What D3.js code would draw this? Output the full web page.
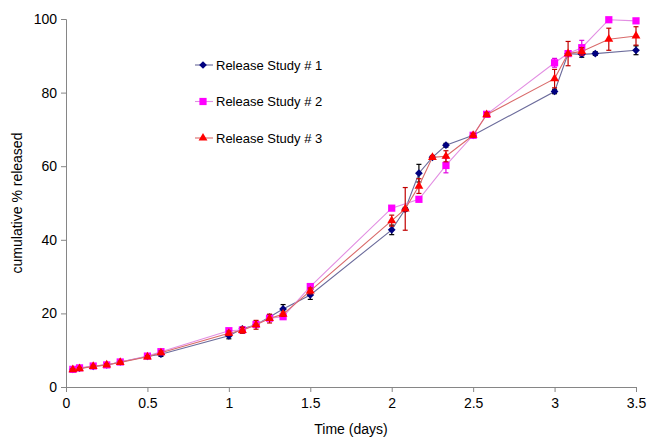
<!DOCTYPE html>
<html>
<head>
<meta charset="utf-8">
<script src="https://cdn.jsdelivr.net/npm/d3@7"></script>
<style>
	body { margin: 0; background: #fff; }
	svg { display: block; font-family: Arial, "Liberation Sans", sans-serif; }
</style>
</head>
<body>
<div id="chart"></div>
<script>
// ---- data (time in days, % released) ----
const xTicks = [0, 0.5, 1, 1.5, 2, 2.5, 3, 3.5]
const yTicks = [0, 20, 40, 60, 80, 100]

const study1Time = [0.042, 0.083, 0.167, 0.25, 0.333, 0.5, 0.583, 1, 1.083, 1.167, 1.25, 1.333, 1.5, 2, 2.083, 2.167, 2.25, 2.333, 2.5, 3, 3.083, 3.167, 3.25, 3.5]
const study1Value = [4.8, 5.1, 5.6, 6.0, 6.8, 8.3, 8.9, 13.9, 15.8, 16.9, 19.0, 21.2, 25.0, 42.7, 48.3, 58.1, 62.4, 65.7, 68.4, 80.3, 90.6, 90.4, 90.6, 91.5]
const study1Err = [0.3, 0.3, 0.3, 0.3, 0.3, 0.3, 0.6, 0.8, 0.5, 0.5, 0.6, 1.2, 1.2, 1.3, 0.5, 2.4, 0.5, 0.5, 0.5, 0.6, 0.5, 0.8, 0.5, 1.2]

const study2Time = [0.042, 0.083, 0.167, 0.25, 0.333, 0.5, 0.583, 1, 1.083, 1.167, 1.25, 1.333, 1.5, 2, 2.167, 2.333, 2.5, 2.583, 3, 3.083, 3.167, 3.333, 3.5]
const study2Value = [4.8, 5.2, 5.7, 6.0, 6.8, 8.4, 9.6, 15.3, 15.5, 17.0, 18.7, 19.1, 27.3, 48.6, 51.0, 60.2, 68.4, 74.1, 88.1, 90.6, 92.2, 99.8, 99.5]
const study2Err = [0.2, 0.2, 0.2, 0.2, 0.3, 0.3, 0.4, 0.5, 0.4, 0.5, 0.5, 0.5, 0.8, 0.5, 0.5, 2.0, 0.4, 0.5, 1.2, 0.5, 2.0, 0.4, 0.4]

const study3Time = [0.042, 0.083, 0.167, 0.25, 0.333, 0.5, 0.583, 1, 1.083, 1.167, 1.25, 1.333, 1.5, 2, 2.083, 2.167, 2.25, 2.333, 2.5, 2.583, 3, 3.083, 3.167, 3.333, 3.5]
const study3Value = [4.7, 5.0, 5.6, 6.0, 6.7, 8.2, 9.3, 14.6, 15.4, 16.9, 18.6, 19.8, 26.1, 45.2, 48.4, 54.6, 62.4, 62.7, 68.4, 74.0, 83.8, 90.6, 91.2, 94.5, 95.4]
const study3Err = [0.3, 0.3, 0.3, 0.3, 0.3, 0.3, 0.5, 0.6, 0.8, 1.2, 1.2, 0.6, 0.8, 1.5, 5.8, 2.0, 0.5, 1.5, 0.5, 0.5, 2.5, 3.3, 1.0, 3.0, 2.5]

const seriesNames = ['Release Study # 1', 'Release Study # 2', 'Release Study # 3']

// ---- layout ----
const width = 649, height = 440
const margin = {left: 66, right: 13, top: 19, bottom: 53}

// excel style diamond = square turned 45deg
const series = [
	{name: seriesNames[0], t: study1Time, v: study1Value, e: study1Err,
		line: '#6b6b9b', fill: '#000080', err: '#000000', shape: d3.symbolSquare, size: 30, rot: 45},
	{name: seriesNames[1], t: study2Time, v: study2Value, e: study2Err,
		line: '#e28ee2', fill: '#ff00ff', err: '#e000e0', shape: d3.symbolSquare, size: 52, rot: 0},
	{name: seriesNames[2], t: study3Time, v: study3Value, e: study3Err,
		line: '#d96a6a', fill: '#ff0000', err: '#c00000', shape: d3.symbolTriangle, size: 34, rot: 0}
]

const svg = d3.select('#chart').append('svg')
	.attr('width', width)
	.attr('height', height)

const x = d3.scaleLinear().domain([0, 3.5]).range([margin.left, width - margin.right])
const y = d3.scaleLinear().domain([0, 100]).range([height - margin.bottom, margin.top])

// axes
const axisColor = '#868686'

const xAxis = svg.append('g')
	.attr('transform', `translate(0,${y(0)})`)
	.call(d3.axisBottom(x).tickValues(xTicks).tickSize(5).tickPadding(6).tickFormat(d3.format('')))
const yAxis = svg.append('g')
	.attr('transform', `translate(${x(0)},0)`)
	.call(d3.axisLeft(y).tickValues(yTicks).tickSize(5).tickPadding(4))

;[xAxis, yAxis].forEach(g => {
	g.select('.domain').attr('stroke', axisColor)
	g.selectAll('.tick line').attr('stroke', axisColor)
	g.selectAll('.tick text').attr('fill', '#000').style('font-size', '14px')
		.style('font-family', 'Arial, "Liberation Sans", sans-serif')
})

// axis titles
svg.append('text')
	.attr('x', x(1.75))
	.attr('y', 434)
	.attr('text-anchor', 'middle')
	.style('font-size', '14px')
	.text('Time (days)')

svg.append('text')
	.attr('transform', `translate(22,${y(50)}) rotate(-90)`)
	.attr('text-anchor', 'middle')
	.style('font-size', '14px')
	.text('cumulative % released')

// series
const lineGen = d3.line().x(d => x(d.t)).y(d => y(d.v))

series.forEach(s => {
	const pts = s.t.map((t, i) => ({t: t, v: s.v[i], e: s.e[i]}))
	const g = svg.append('g')

	g.append('path')
		.datum(pts)
		.attr('d', lineGen)
		.attr('fill', 'none')
		.attr('stroke', s.line)
		.attr('stroke-width', 1.1)

	// error bars
	const eb = g.selectAll('.eb').data(pts).enter().append('g').attr('class', 'eb')
	eb.append('line')
		.attr('x1', d => x(d.t)).attr('x2', d => x(d.t))
		.attr('y1', d => y(d.v - d.e)).attr('y2', d => y(d.v + d.e))
		.attr('stroke', s.err).attr('stroke-width', 1.2)
	;[-1, 1].forEach(sign => {
		eb.append('line')
			.attr('x1', d => x(d.t) - 2.5).attr('x2', d => x(d.t) + 2.5)
			.attr('y1', d => y(d.v + sign * d.e)).attr('y2', d => y(d.v + sign * d.e))
			.attr('stroke', s.err).attr('stroke-width', 1.2)
	})

	g.selectAll('.mk').data(pts).enter().append('path')
		.attr('class', 'mk')
		.attr('transform', d => `translate(${x(d.t)},${y(d.v)}) rotate(${s.rot})`)
		.attr('d', d3.symbol().type(s.shape).size(s.size))
		.attr('fill', s.fill)
})

// legend
const legendY = [65, 101.5, 138]
series.forEach((s, i) => {
	const lg = svg.append('g').attr('transform', `translate(195,${legendY[i]})`)
	lg.append('line')
		.attr('x1', 0).attr('x2', 18).attr('y1', 0).attr('y2', 0)
		.attr('stroke', s.line).attr('stroke-width', 1.1)
	lg.append('path')
		.attr('transform', `translate(8,0) rotate(${s.rot})`)
		.attr('d', d3.symbol().type(s.shape).size(s.size))
		.attr('fill', s.fill)
	lg.append('text')
		.attr('x', 21)
		.attr('y', 4.5)
		.style('font-size', '13px')
		.text(s.name)
})
</script>
</body>
</html>
